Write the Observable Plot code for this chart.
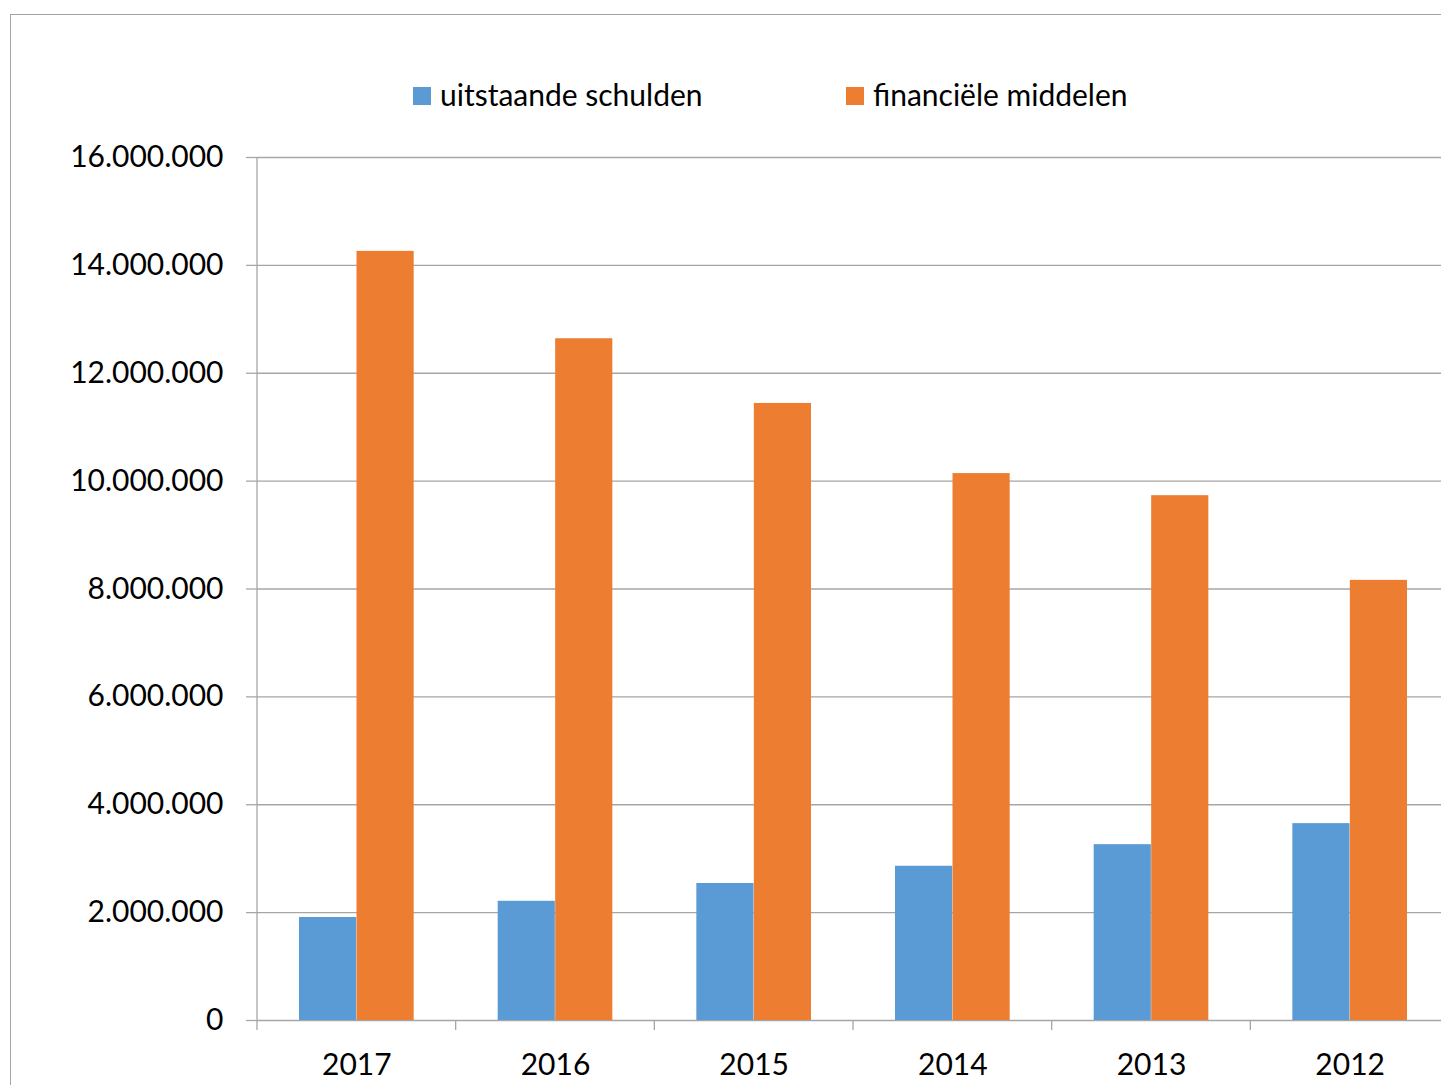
<!DOCTYPE html>
<html>
<head>
<meta charset="utf-8">
<script src="https://cdn.jsdelivr.net/npm/d3@7"></script>
<script src="https://cdn.jsdelivr.net/npm/@observablehq/plot@0.6"></script>
<style>
  html, body { margin: 0; padding: 0; background: #fff; overflow: hidden; width: 1441px; height: 1085px; }
  body { position: relative; font-family: Lato, "Open Sans", sans-serif; }
  #frame { position: absolute; left: 10px; top: 14px; width: 1500px; height: 1200px; border: 1px solid #a3a3a3; box-sizing: border-box; }
  .sw { position: absolute; width: 18px; height: 18px; top: 87px; }
  .lt { position: absolute; top: 79px; font-size: 30px; line-height: 30px; color: #000; white-space: nowrap; }
  #chart { position: absolute; left: 0; top: 130px; width: 1460px; }
  #chart svg { max-width: none !important; }
</style>
</head>
<body>
<div id="frame"></div>
<div id="legend"></div>
<div id="chart"></div>
<script>
const years = ["2017", "2016", "2015", "2014", "2013", "2012"];
const schulden = [1910000, 2210000, 2540000, 2860000, 3260000, 3650000];
const middelen = [14260000, 12640000, 11440000, 10140000, 9730000, 8160000];
const seriesNames = ["uitstaande schulden", "financiële middelen"];
const seriesColors = ["#5b9bd5", "#ed7d31"];
const yTicks = [0, 2000000, 4000000, 6000000, 8000000, 10000000, 12000000, 14000000, 16000000];

const gridColor = "#a6a6a6";
const nl = d3.formatLocale({decimal: ",", thousands: ".", grouping: [3], currency: ["€", ""]});
const fmt = nl.format(",");

// Legend (HTML, above the chart)
const legend = document.getElementById("legend");
const legendX = [413, 846];
seriesNames.forEach((name, i) => {
  const sw = document.createElement("div");
  sw.className = "sw";
  sw.style.left = legendX[i] + "px";
  sw.style.background = seriesColors[i];
  legend.appendChild(sw);
  const t = document.createElement("div");
  t.className = "lt";
  t.style.left = (legendX[i] + 27) + "px";
  t.textContent = name;
  legend.appendChild(t);
});

const dataS = years.map((y, i) => ({year: y, value: schulden[i]}));
const dataM = years.map((y, i) => ({year: y, value: middelen[i]}));

// boundary ticks on the category axis + vertical value axis line
function categoryAxisLines(index, scales, values, dims) {
  const {x, y} = scales;
  const g = d3.create("svg:g").attr("stroke", gridColor).attr("stroke-width", 1.3);
  const y0 = y(0);
  const bw = x.bandwidth ? x.bandwidth() : 0;
  const xs = years.map(yr => x(yr));
  xs.push(xs[xs.length - 1] + bw);
  g.append("line").attr("x1", xs[0]).attr("x2", xs[0]).attr("y1", y(yTicks[yTicks.length - 1])).attr("y2", y0 + 10);
  xs.slice(1).forEach(px => {
    g.append("line").attr("x1", px).attr("x2", px).attr("y1", y0).attr("y2", y0 + 10);
  });
  return g.node();
}

const chart = Plot.plot({
  width: 1460,
  height: 955,
  marginLeft: 257,
  marginRight: 11,
  marginTop: 27,
  marginBottom: 65,
  style: {fontFamily: "Lato, 'Open Sans', sans-serif", fontSize: "30px", color: "#000", background: "transparent", maxWidth: "none"},
  x: {type: "band", domain: years, padding: 0, round: false, axis: null},
  y: {domain: [0, 16000000], axis: null},
  marks: [
    Plot.gridY(yTicks, {stroke: gridColor, strokeOpacity: 1, strokeWidth: 1.3}),
    Plot.axisY(yTicks, {tickSize: 11, tickPadding: 23, tickFormat: fmt, stroke: gridColor, strokeWidth: 1.3, strokeOpacity: 1, fill: "#000", fontSize: 30, label: null}),
    Plot.barY(dataS, {x: "year", y: "value", fill: seriesColors[0], insetLeft: 42, insetRight: 99.5}),
    Plot.barY(dataM, {x: "year", y: "value", fill: seriesColors[1], insetLeft: 99.5, insetRight: 42}),
    Plot.axisX({tickSize: 0, tickPadding: 33, fill: "#000", fontSize: 30, label: null}),
    categoryAxisLines
  ]
});
chart.style.maxWidth = "none";
document.getElementById("chart").appendChild(chart);
</script>
</body>
</html>
